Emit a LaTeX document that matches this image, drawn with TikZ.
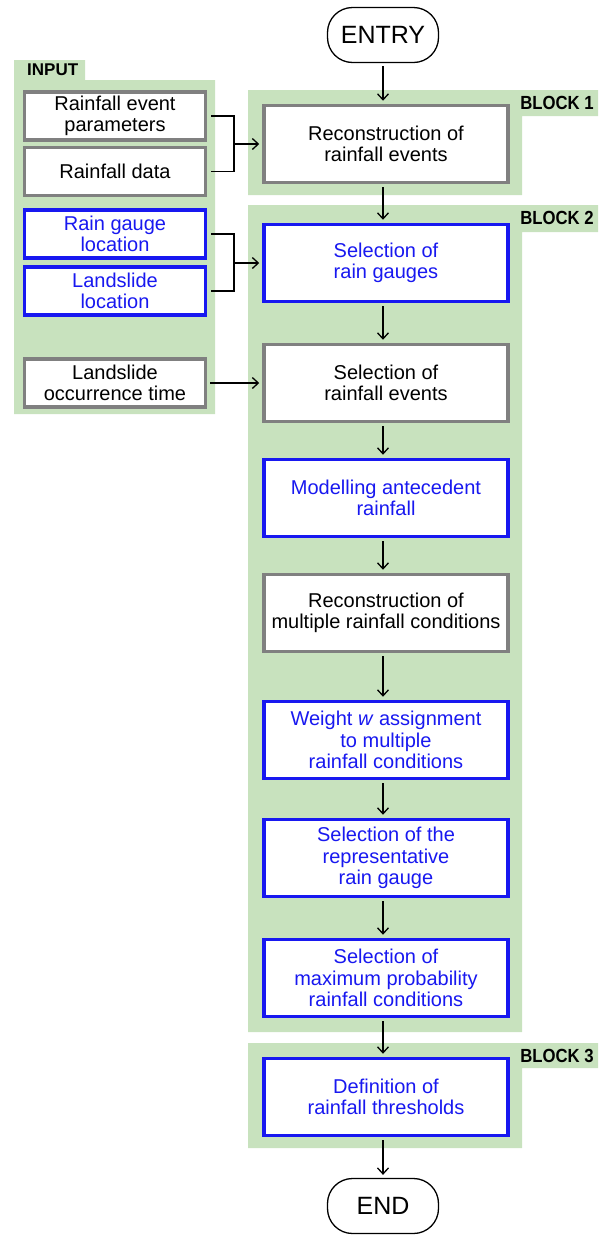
\documentclass[tikz,border=0pt]{standalone}
\usepackage{fontspec}
\setmainfont{Liberation Sans}
\usepackage{tikz}
\usetikzlibrary{shapes,arrows.meta}
\definecolor{panelgreen}{RGB}{200,226,190}
\definecolor{boxblue}{RGB}{24,24,240}
\definecolor{boxgray}{RGB}{128,128,128}
\pgfdeclarelayer{panellayer}
\pgfdeclarelayer{edgelayer}
\pgfdeclarelayer{nodelayer}
\pgfsetlayers{panellayer,edgelayer,main,nodelayer}
\tikzstyle{none}=[inner sep=0pt]
\tikzstyle{terminal}=[rectangle,rounded corners=25pt,draw=black,line width=1.3,fill=white,minimum width=111pt,minimum height=55pt,font=\fontsize{25}{30}\selectfont]
\tikzstyle{stepgray}=[rectangle,draw=boxgray,line width=3.5,fill=white,minimum width=244pt,minimum height=77pt,align=center,font=\fontsize{20}{21.5}\selectfont]
\tikzstyle{stepblue}=[stepgray,draw=boxblue,text=boxblue]
\tikzstyle{inputgray}=[stepgray,minimum width=181pt,minimum height=48pt]
\tikzstyle{inputblue}=[inputgray,draw=boxblue,text=boxblue]
\tikzstyle{flow}=[-{Straight Barb[length=6pt,width=11pt]},line width=1.3,shorten >=3pt,shorten <=3pt]
\tikzstyle{inflow}=[-{Straight Barb[length=6pt,width=11pt]},line width=1.3,shorten >=3pt]
\tikzstyle{feed}=[-,line width=1.3,shorten <=4pt]
\tikzstyle{panel}=[fill=panelgreen,draw=none]
\tikzstyle{tag}=[inner sep=0pt,font=\bfseries\fontsize{17}{19}\selectfont]
\tikzstyle{blocktag}=[inner sep=0pt,xscale=0.88,font=\bfseries\fontsize{19}{21}\selectfont]

\begin{document}
\begin{tikzpicture}[x=1pt,y=-1pt]
	\useasboundingbox (0,0) rectangle (606,1240);
	\begin{pgfonlayer}{panellayer}
		\fill [style=panel] (14,60) -- (85,60) -- (85,80) -- (215,80) -- (215,414) -- (14,414) -- cycle;
		\fill [style=panel] (248,90) -- (598,90) -- (598,116) -- (522,116) -- (522,195) -- (248,195) -- cycle;
		\fill [style=panel] (248,205) -- (598,205) -- (598,232) -- (522,232) -- (522,1032) -- (248,1032) -- cycle;
		\fill [style=panel] (248,1043) -- (598,1043) -- (598,1068) -- (522,1068) -- (522,1148) -- (248,1148) -- cycle;
	\end{pgfonlayer}
	\begin{pgfonlayer}{nodelayer}
		\node [style=tag, anchor=west] (inlabel) at (27,70) {INPUT};
		\node [style=blocktag] (b1label) at (557,103) {BLOCK 1};
		\node [style=blocktag] (b2label) at (557,218) {BLOCK 2};
		\node [style=blocktag] (b3label) at (557,1056) {BLOCK 3};

		\node [style=terminal] (entry) at (383,35) {ENTRY};

		\node [style=inputgray] (params) at (115,116) {Rainfall event\\parameters};
		\node [style=inputgray] (rdata) at (115,171.5) {Rainfall data};
		\node [style=inputblue] (gaugeloc) at (115,234) {Rain gauge\\location};
		\node [style=inputblue] (slideloc) at (115,291) {Landslide\\location};
		\node [style=inputgray] (slidetime) at (115,383) {Landslide\\occurrence time};

		\node [style=stepgray] (recon) at (386,144) {Reconstruction of\\rainfall events};
		\node [style=stepblue] (gauges) at (386,263) {Selection of\\rain gauges};
		\node [style=stepgray] (events) at (386,383) {Selection of\\rainfall events};
		\node [style=stepblue] (antec) at (386,498) {Modelling antecedent\\rainfall};
		\node [style=stepgray] (multi) at (386,613) {Reconstruction of\\multiple rainfall conditions};
		\node [style=stepblue] (weight) at (386,740) {Weight \textit{w} assignment\\to multiple\\rainfall conditions};
		\node [style=stepblue] (repgauge) at (386,858) {Selection of the\\representative\\rain gauge};
		\node [style=stepblue] (maxprob) at (386,978) {Selection of\\maximum probability\\rainfall conditions};
		\node [style=stepblue] (thresh) at (386,1097) {Definition of\\rainfall thresholds};

		\node [style=terminal] (end) at (383,1206) {END};

		\node [style=none] (j1) at (234,144) {};
		\node [style=none] (j2) at (234,263) {};
	\end{pgfonlayer}
	\begin{pgfonlayer}{edgelayer}
		\draw [style=flow] (entry) to (entry |- recon.north);
		\draw [style=flow] (recon.south -| entry) to (entry |- gauges.north);
		\draw [style=flow] (gauges.south -| entry) to (entry |- events.north);
		\draw [style=flow] (events.south -| entry) to (entry |- antec.north);
		\draw [style=flow] (antec.south -| entry) to (entry |- multi.north);
		\draw [style=flow] (multi.south -| entry) to (entry |- weight.north);
		\draw [style=flow] (weight.south -| entry) to (entry |- repgauge.north);
		\draw [style=flow] (repgauge.south -| entry) to (entry |- maxprob.north);
		\draw [style=flow] (maxprob.south -| entry) to (entry |- thresh.north);
		\draw [style=flow] (thresh.south -| entry) to (end);

		\draw [style=feed] (params.east) -| (j1.center);
		\draw [style=feed] (rdata.east) -| (j1.center);
		\draw [style=inflow] (j1.center) to (recon.west);
		\draw [style=feed] (gaugeloc.east) -| (j2.center);
		\draw [style=feed] (slideloc.east) -| (j2.center);
		\draw [style=inflow] (j2.center) to (gauges.west);
		\draw [style=flow] (slidetime.east) to (events.west);
	\end{pgfonlayer}
\end{tikzpicture}
\end{document}
